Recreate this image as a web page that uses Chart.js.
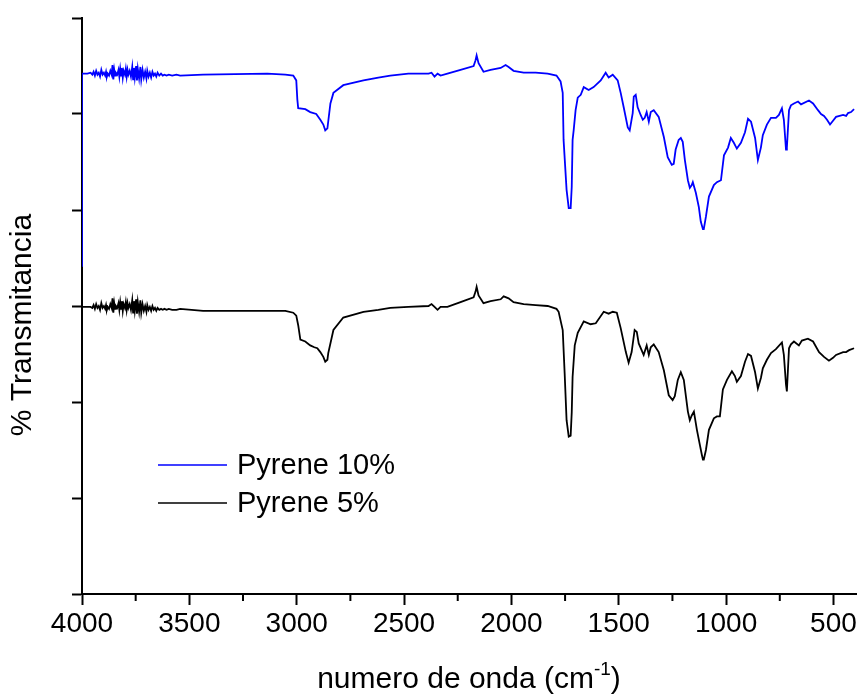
<!DOCTYPE html>
<html>
<head>
<meta charset="utf-8">
<script src="https://cdn.jsdelivr.net/npm/chart.js@4.4.1/dist/chart.umd.min.js"></script>
<style>
  body { margin: 0; background: #fff; }
  #wrap { width: 858px; height: 695px; }
</style>
</head>
<body>
<div id="wrap"><canvas id="myChart" width="858" height="695"></canvas></div>
<script>
// series labels
const labels = ['Pyrene 10%', 'Pyrene 5%'];
const colors = ['#0000ff', '#000000'];
const xTitle = 'numero de onda (cm';
const xTitleSup = '-1';
const yTitle = '% Transmitancia';

// Pyrene 10% - wavenumber (cm-1) and transmittance (arb. units)
const wnBlue = [4000, 4000, 3990, 3975, 3960, 3952, 3946, 3940, 3934, 3928, 3922, 3916, 3910, 3904, 3898, 3892, 3888, 3884, 3880, 3874,
  3868, 3862, 3858, 3854, 3850, 3846, 3842, 3836, 3830, 3826, 3822, 3818, 3814, 3810, 3806, 3800, 3796, 3792, 3788, 3784,
  3778, 3772, 3766, 3762, 3758, 3754, 3748, 3744, 3740, 3734, 3728, 3724, 3718, 3712, 3706, 3700, 3696, 3690, 3684, 3678,
  3672, 3666, 3660, 3654, 3648, 3640, 3632, 3624, 3616, 3606, 3596, 3580, 3560, 3543,
  3436, 3137, 3053, 3016, 3002, 2997, 2993, 2960, 2937, 2909, 2890, 2876, 2867, 2857, 2843, 2829, 2783, 2689, 2620, 2564, 2480, 2386,
  2372, 2358, 2344, 2330, 2298, 2237, 2176, 2167, 2162, 2153, 2130, 2097, 2050, 2027, 2013, 1990, 1943, 1887, 1831, 1790,
  1771, 1761, 1757, 1743, 1733, 1724, 1719, 1715, 1710, 1701, 1691, 1677, 1663, 1640, 1617, 1584, 1561, 1547, 1528, 1505,
  1491, 1477, 1458, 1449, 1435, 1430, 1421, 1412, 1398, 1388, 1379, 1370, 1360, 1351, 1337, 1314, 1290, 1272, 1253, 1244,
  1235, 1221, 1211, 1202, 1192, 1178, 1169, 1160, 1155, 1141, 1127, 1118, 1108, 1104, 1094, 1080, 1057, 1043, 1024, 1010,
  991, 978, 964, 950, 931, 912, 898, 884, 865, 852, 838, 829, 810, 791, 768, 754, 740, 731, 721, 717,
  707, 698, 684, 665, 651, 614, 595, 572, 558, 544, 530, 516, 502, 488, 455, 441, 432, 418, 404];
const tBlue = [34.1, 54.2, 54.2, 54.2, 54.3, 54.1, 54.4, 54.0, 54.5, 54.1, 54.3, 53.9, 54.6, 54.1, 54.3, 54.0, 54.4, 53.9, 54.2, 54.0,
  54.5, 54.1, 55.1, 53.6, 54.6, 54.0, 54.3, 54.1, 54.6, 53.9, 54.7, 54.0, 54.8, 53.8, 54.5, 54.1, 54.7, 53.9, 54.6, 54.1,
  54.5, 53.9, 54.9, 53.6, 54.8, 53.8, 55.0, 53.5, 54.7, 53.7, 54.9, 53.6, 54.6, 53.8, 54.4, 53.7, 54.5, 53.9, 54.3, 53.8,
  54.4, 54.0, 54.2, 53.9, 54.3, 54.0, 54.2, 54.0, 54.1, 54.0, 54.1, 54.0, 54.1, 54.0,
  54.1, 54.2, 54.1, 54.0, 53.5, 51.5, 50.6, 50.5, 50.2, 50.0, 49.4, 48.9, 48.3, 48.5, 51.1, 52.2, 53.0, 53.5, 53.8, 54.0, 54.2, 54.2,
  54.3, 53.9, 54.2, 54.0, 54.2, 54.6, 55.0, 55.6, 56.1, 55.3, 54.4, 54.6, 54.8, 55.1, 54.9, 54.5, 54.3, 54.3, 54.2, 54.0,
  53.4, 52.2, 47.3, 42.1, 40.2, 40.2, 42.4, 47.3, 48.3, 50.4, 51.7, 52.0, 52.8, 52.5, 52.8, 53.5, 54.3, 53.8, 54.1, 53.5,
  52.2, 50.7, 48.6, 48.3, 50.1, 51.8, 52.0, 50.7, 49.9, 49.4, 49.6, 50.2, 49.2, 50.2, 50.4, 49.7, 47.6, 45.5, 44.7, 44.8,
  46.3, 47.3, 47.5, 47.1, 45.2, 43.1, 42.3, 42.6, 42.9, 41.8, 40.3, 38.8, 38.0, 38.0, 39.3, 41.4, 42.6, 42.9, 43.1, 45.7,
  46.5, 47.5, 47.0, 46.4, 47.0, 48.1, 49.5, 49.2, 47.5, 45.2, 46.5, 47.8, 48.9, 49.6, 49.6, 49.9, 50.6, 49.4, 46.3, 46.5,
  50.4, 50.9, 51.1, 51.3, 51.0, 51.4, 51.1, 50.4, 50.0, 49.8, 49.4, 48.9, 49.3, 49.7, 49.9, 49.8, 50.1, 50.2, 50.5];

// Pyrene 5%
const wnBlack = [4000, 3990, 3975, 3960, 3952, 3946, 3940, 3934, 3928, 3922, 3916, 3910, 3904, 3898, 3892, 3888, 3884, 3880, 3874,
  3868, 3862, 3858, 3854, 3850, 3846, 3842, 3836, 3830, 3826, 3822, 3818, 3814, 3810, 3806, 3800, 3796, 3792, 3788, 3784,
  3778, 3772, 3766, 3762, 3758, 3754, 3748, 3744, 3740, 3734, 3728, 3724, 3718, 3712, 3706, 3700, 3696, 3690, 3684, 3678,
  3672, 3666, 3660, 3654, 3648, 3640, 3632, 3624, 3616, 3606, 3596, 3580, 3560, 3543,
  3436, 3137, 3053, 3016, 3002, 2993, 2983, 2960, 2937, 2918, 2904, 2890, 2876, 2867, 2857, 2853, 2829, 2783, 2689, 2620, 2564, 2480,
  2386, 2372, 2358, 2344, 2330, 2298, 2237, 2176, 2167, 2162, 2153, 2130, 2097, 2050, 2036, 2013, 1990, 1943, 1887, 1831,
  1790, 1780, 1761, 1752, 1743, 1733, 1724, 1719, 1715, 1705, 1691, 1663, 1631, 1607, 1570, 1547, 1528, 1509, 1491, 1467,
  1454, 1440, 1426, 1416, 1407, 1384, 1370, 1360, 1351, 1337, 1314, 1290, 1267, 1249, 1239, 1225, 1211, 1197, 1178, 1169,
  1160, 1150, 1136, 1122, 1113, 1108, 1104, 1094, 1080, 1057, 1043, 1029, 1015, 996, 973, 959, 950, 931, 912, 898,
  884, 865, 852, 838, 829, 810, 791, 768, 740, 731, 721, 717, 707, 698, 684, 661, 647, 619, 595, 567,
  544, 521, 502, 488, 455, 441, 427, 404];
const tBlack = [29.9, 29.9, 29.9, 29.9, 29.8, 30.1, 29.7, 30.2, 29.8, 30.0, 29.6, 30.3, 29.8, 30.0, 29.7, 30.1, 29.6, 29.9, 29.7,
  30.2, 29.8, 30.8, 29.3, 30.3, 29.7, 30.0, 29.8, 30.3, 29.6, 30.4, 29.7, 30.5, 29.5, 30.2, 29.8, 30.4, 29.6, 30.3, 29.8,
  30.2, 29.6, 30.6, 29.3, 30.5, 29.5, 30.7, 29.2, 30.4, 29.4, 30.6, 29.3, 30.2, 29.5, 30.0, 29.4, 30.1, 29.6, 29.9, 29.5,
  30.0, 29.6, 29.8, 29.5, 29.8, 29.6, 29.7, 29.6, 29.7, 29.6, 29.7, 29.6, 29.6, 29.7,
  29.5, 29.5, 29.5, 29.3, 29.0, 28.0, 26.5, 26.3, 25.9, 25.7, 25.6, 25.2, 24.7, 24.2, 24.4, 25.1, 27.5, 28.8, 29.4, 29.6, 29.8, 29.9,
  30.0, 30.2, 29.9, 29.6, 29.9, 29.9, 30.4, 30.9, 31.5, 32.0, 31.1, 30.3, 30.5, 30.7, 31.0, 30.8, 30.4, 30.2, 30.1, 30.0,
  29.7, 29.4, 27.5, 23.0, 18.1, 16.4, 16.5, 18.9, 22.6, 25.9, 27.2, 28.4, 28.1, 28.2, 29.4, 29.2, 29.4, 29.3, 27.7, 25.2,
  24.1, 25.2, 27.5, 27.3, 26.1, 24.9, 25.9, 24.9, 25.7, 26.0, 25.2, 23.3, 20.7, 20.2, 20.6, 22.3, 23.1, 22.3, 19.0, 18.1,
  18.6, 19.0, 17.1, 15.5, 14.5, 14.0, 14.0, 15.0, 17.1, 18.3, 18.5, 18.5, 21.3, 22.3, 23.2, 22.7, 22.1, 22.7, 24.2, 25.0,
  24.8, 23.1, 21.4, 22.5, 23.5, 24.4, 25.1, 25.5, 26.2, 24.9, 21.8, 21.1, 25.6, 26.0, 26.3, 25.9, 26.4, 26.6, 26.3, 25.2,
  24.7, 24.3, 24.6, 24.9, 25.2, 25.2, 25.4, 25.6];

const fontFamily = '"Liberation Sans", Arial, sans-serif';

function toPoints(xs, ys) {
  return xs.map((x, i) => ({ x: x, y: ys[i] }));
}

// titles, legend and minor ticks
const extras = {
  id: 'extras',
  afterDraw(chart) {
    const ctx = chart.ctx;
    const area = chart.chartArea;
    const xs = chart.scales.x;
    ctx.save();

    // minor x ticks
    ctx.strokeStyle = '#000';
    ctx.lineWidth = 2;
    xs.ticks.forEach(t => {
      if (t.value % 500 !== 0) {
        const px = xs.getPixelForValue(t.value);
        ctx.beginPath();
        ctx.moveTo(px, area.bottom);
        ctx.lineTo(px, area.bottom + 7);
        ctx.stroke();
      }
    });

    ctx.fillStyle = '#000';

    // x title with superscript
    ctx.font = '30px ' + fontFamily;
    const w1 = ctx.measureText(xTitle).width;
    const w3 = ctx.measureText(')').width;
    ctx.font = '19px ' + fontFamily;
    const w2 = ctx.measureText(xTitleSup).width;
    let sx = (area.left + area.right) / 2 - (w1 + w2 + w3) / 2;
    const base = 688;
    ctx.textAlign = 'left';
    ctx.textBaseline = 'alphabetic';
    ctx.font = '30px ' + fontFamily;
    ctx.fillText(xTitle, sx, base);
    ctx.font = '19px ' + fontFamily;
    ctx.fillText(xTitleSup, sx + w1, base - 13);
    ctx.font = '30px ' + fontFamily;
    ctx.fillText(')', sx + w1 + w2, base);

    // y title
    ctx.save();
    ctx.translate(23, 325);
    ctx.rotate(-Math.PI / 2);
    ctx.textAlign = 'center';
    ctx.textBaseline = 'middle';
    ctx.fillText(yTitle, 0, 0);
    ctx.restore();

    // legend
    ctx.font = '29px ' + fontFamily;
    ctx.textBaseline = 'middle';
    chart.data.datasets.forEach((ds, i) => {
      const ly = 465 + i * 38;
      ctx.strokeStyle = ds.borderColor;
      ctx.lineWidth = 1.5;
      ctx.beginPath();
      ctx.moveTo(158, ly);
      ctx.lineTo(227, ly);
      ctx.stroke();
      ctx.fillStyle = '#000';
      ctx.fillText(ds.label, 237, ly + 1);
    });
    ctx.restore();
  }
};

function createGraph() {
  const ctx = document.getElementById('myChart');

  new Chart(ctx, {
    type: 'line',
    data: {
      datasets: [{
        label: labels[0],
        data: toPoints(wnBlue, tBlue),
        borderColor: colors[0],
        borderWidth: 1.8,
        pointRadius: 0
      }, {
        label: labels[1],
        data: toPoints(wnBlack, tBlack),
        borderColor: colors[1],
        borderWidth: 1.8,
        pointRadius: 0
      }]
    },
    options: {
      responsive: false,
      animation: false,
      layout: { padding: { top: 18, right: 2, left: 0, bottom: 0 } },
      plugins: {
        legend: { display: false },
        tooltip: { enabled: false }
      },
      scales: {
        x: {
          type: 'linear',
          reverse: true,
          min: 395,
          max: 4000,
          border: { color: '#000', width: 2 },
          grid: {
            drawOnChartArea: false,
            tickLength: 11,
            tickWidth: 2,
            tickColor: c => (c.tick && c.tick.value % 500 === 0) ? '#000' : 'rgba(0,0,0,0)'
          },
          ticks: {
            stepSize: 250,
            includeBounds: false,
            maxRotation: 0,
            autoSkip: false,
            padding: 2,
            color: '#000',
            font: { family: fontFamily, size: 28 },
            callback: v => (v % 500 === 0 ? v : '')
          },
          afterFit: s => { s.height = 101; s.paddingLeft = 0; s.paddingRight = 0; }
        },
        y: {
          min: 0,
          max: 60,
          border: { color: '#000', width: 2 },
          grid: { drawOnChartArea: false, tickLength: 10, tickWidth: 2, tickColor: '#000' },
          ticks: { stepSize: 10, callback: () => '' },
          afterFit: s => { s.width = 82; s.paddingTop = 0; s.paddingBottom = 0; }
        }
      }
    },
    plugins: [extras]
  });
}
createGraph();
</script>
</body>
</html>
